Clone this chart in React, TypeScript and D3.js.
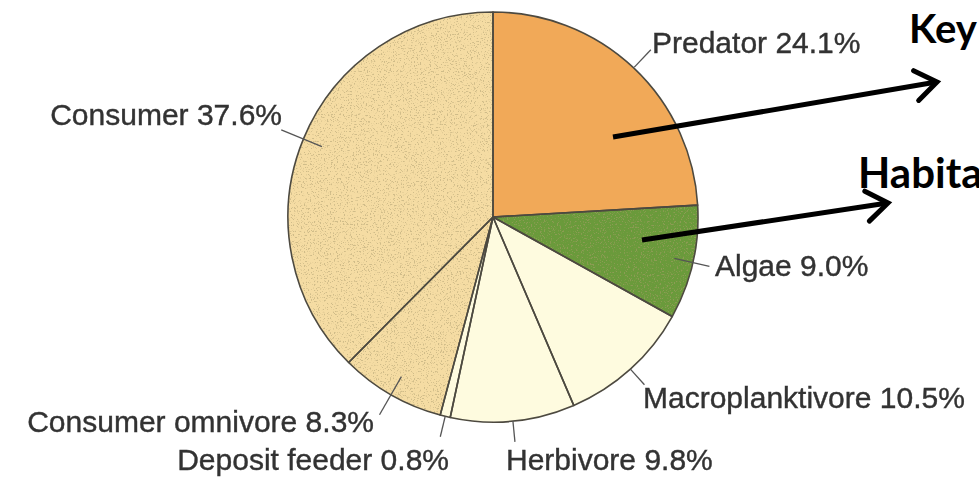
import React from "react";
import * as d3 from "d3";

const categories = ["Predator", "Algae", "Macroplanktivore", "Herbivore", "Deposit feeder", "Consumer omnivore", "Consumer"];
const values = [24.1, 9.0, 10.5, 9.8, 0.8, 8.3, 37.6];
const labels = ["Predator 24.1%", "Algae 9.0%", "Macroplanktivore 10.5%", "Herbivore 9.8%", "Deposit feeder 0.8%", "Consumer omnivore 8.3%", "Consumer 37.6%"];
const fills = ["#F1A958", "#6B9A3A", "#FEFBDF", "#FEFBDF", "#FEFBDF", "#F5DCA3", "#F5DCA3"];
const speckled = [false, true, false, false, false, true, true];

// label layout: leader inner radius, leader outer radius, text x, baseline y, anchor
const labelLayout = [
  { r0: 206, r1: 230, x: 652, y: 53, anchor: "start" },
  { r0: 186, r1: 222, x: 715, y: 276, anchor: "start" },
  { r0: 205, r1: 226, x: 643, y: 408, anchor: "start" },
  { r0: 205, r1: 226, x: 506, y: 470, anchor: "start" },
  { r0: 205, r1: 226, x: 449, y: 470, anchor: "end" },
  { r0: 184, r1: 228, x: 374, y: 432, anchor: "end" },
  { r0: 185, r1: 229, x: 282, y: 125, anchor: "end" },
];

const W = 979;
const H = 477;
const cx = 493;
const cy = 217;
const R = 205;

const annotations = [
  { text: "Key", x: 909, y: 43, size: 40, from: [613, 137], to: [937, 82] },
  { text: "Habitat", x: 858, y: 188, size: 42, from: [642, 240], to: [888, 203] },
];

export default function App() {
  const pie = d3.pie<number>().sort(null).value((d) => d);
  const arcs = pie(values);
  const arcGen = d3.arc<d3.PieArcDatum<number>>().innerRadius(0).outerRadius(R);
  const polar = (a: number, r: number): [number, number] => [Math.sin(a) * r, -Math.cos(a) * r];

  return (
    <svg width={W} height={H} style={{ position: "absolute", left: 0, top: 0, background: "#fff" }}>
      <defs>
        <filter id="speckle" x="0" y="0" width="1" height="1">
          <feTurbulence type="fractalNoise" baseFrequency="0.7" numOctaves="2" seed="7" result="noise" />
          <feColorMatrix
            in="noise"
            type="matrix"
            values="0 0 0 0 0.42  0 0 0 0 0.34  0 0 0 0 0.16  9 0 0 0 -5.2"
            result="dots"
          />
          <feComposite in="dots" in2="SourceAlpha" operator="in" />
        </filter>
        <filter id="soft" x="-5%" y="-5%" width="110%" height="110%">
          <feGaussianBlur stdDeviation="0.6" />
        </filter>
      </defs>
      <g filter="url(#soft)">
        <g transform={`translate(${cx},${cy})`}>
          {arcs.map((a, i) => (
            <path key={categories[i]} d={arcGen(a) || ""} fill={fills[i]} stroke="none" />
          ))}
          {arcs.map((a, i) =>
            speckled[i] ? (
              <path key={"s" + i} d={arcGen(a) || ""} fill="#000" filter="url(#speckle)" opacity={0.5} />
            ) : null
          )}
          {arcs.map((a, i) => (
            <path key={"o" + i} d={arcGen(a) || ""} fill="none" stroke="#4d4a40" strokeWidth={1.6} strokeLinejoin="round" />
          ))}
          {arcs.map((a, i) => {
            const m = (a.startAngle + a.endAngle) / 2;
            const L = labelLayout[i];
            const p0 = polar(m, L.r0);
            const p1 = polar(m, L.r1);
            return <line key={"l" + i} x1={p0[0]} y1={p0[1]} x2={p1[0]} y2={p1[1]} stroke="#555" strokeWidth={1.3} />;
          })}
        </g>
        {labels.map((t, i) => (
          <text
            key={"t" + i}
            x={labelLayout[i].x}
            y={labelLayout[i].y}
            textAnchor={labelLayout[i].anchor as any}
            fontFamily="'Liberation Sans', Arial, sans-serif"
            fontSize={30}
            fill="#333"
            stroke="#333"
            strokeWidth={0.4}
          >
            {t}
          </text>
        ))}
      </g>
      {annotations.map((an) => {
        const [x1, y1] = an.from;
        const [x2, y2] = an.to;
        const ang = Math.atan2(y2 - y1, x2 - x1);
        const hl = 26;
        const ha = 0.62;
        const w1: [number, number] = [x2 - hl * Math.cos(ang - ha), y2 - hl * Math.sin(ang - ha)];
        const w2: [number, number] = [x2 - hl * Math.cos(ang + ha), y2 - hl * Math.sin(ang + ha)];
        return (
          <g key={an.text}>
            <line x1={x1} y1={y1} x2={x2 - 2 * Math.cos(ang)} y2={y2 - 2 * Math.sin(ang)} stroke="#000" strokeWidth={5} />
            <polyline
              points={`${w1[0]},${w1[1]} ${x2},${y2} ${w2[0]},${w2[1]}`}
              fill="none"
              stroke="#000"
              strokeWidth={5}
              strokeLinecap="round"
              strokeLinejoin="miter"
            />
            <text x={an.x} y={an.y} fontFamily="Lato, 'Liberation Sans', Arial, sans-serif" fontWeight={700} fontSize={an.size} fill="#000">
              {an.text}
            </text>
          </g>
        );
      })}
    </svg>
  );
}
